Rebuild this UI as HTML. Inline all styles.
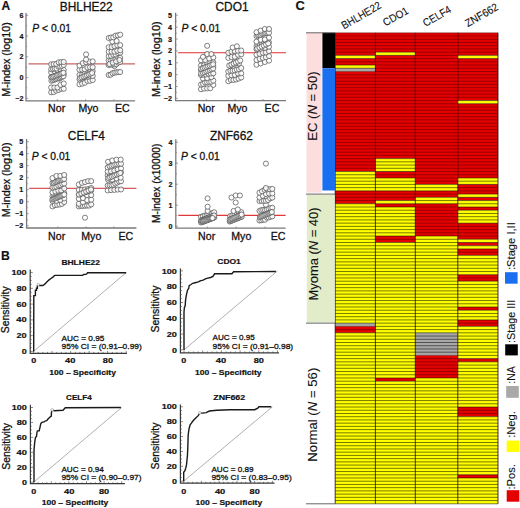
<!DOCTYPE html>
<html><head><meta charset="utf-8"><style>
html,body{margin:0;padding:0;background:#fff;}
svg{display:block;}
text{font-family:"Liberation Sans", sans-serif;fill:#111;stroke:#111;stroke-width:0.28px;}
text[font-weight="bold"]{stroke-width:0.18px;}
</style></head><body>
<svg width="520" height="508" viewBox="0 0 520 508">
<rect width="520" height="508" fill="#fff"/>
<path d="M26.0 13.1V100.8H135.1" stroke="#7a7a7a" stroke-width="1.3" fill="none"/>
<path d="M26.0 15.34h2.2M26.0 36.06h2.2M26.0 56.78h2.2M26.0 77.50h2.2M26.0 98.22h2.2M26.0 25.70h1.2M26.0 46.42h1.2M26.0 67.14h1.2M26.0 87.86h1.2M57.30 100.8v-1.6M85.60 100.8v-1.6M114.00 100.8v-1.6" stroke="#7a7a7a" stroke-width="0.7" fill="none"/>
<text x="23.4" y="17.84" font-size="7.2" font-weight="bold" text-anchor="end">6</text>
<text x="23.4" y="38.56" font-size="7.2" font-weight="bold" text-anchor="end">4</text>
<text x="23.4" y="59.28" font-size="7.2" font-weight="bold" text-anchor="end">2</text>
<text x="23.4" y="80.00" font-size="7.2" font-weight="bold" text-anchor="end">0</text>
<text x="23.4" y="100.72" font-size="7.2" font-weight="bold" text-anchor="end">&#8722;2</text>
<line x1="28.5" y1="63.9" x2="135.1" y2="63.9" stroke="#c86464" stroke-width="1.1"/>
<g fill="#fff" fill-opacity="0.85" stroke="#4a4a4a" stroke-width="0.7"><circle cx="51.20" cy="92.30" r="2.55"/><circle cx="53.70" cy="92.06" r="2.55"/><circle cx="56.20" cy="90.67" r="2.55"/><circle cx="58.70" cy="89.92" r="2.55"/><circle cx="61.20" cy="88.79" r="2.55"/><circle cx="63.70" cy="88.78" r="2.55"/><circle cx="51.20" cy="87.50" r="2.55"/><circle cx="54.33" cy="87.50" r="2.55"/><circle cx="57.45" cy="87.49" r="2.55"/><circle cx="60.58" cy="84.86" r="2.55"/><circle cx="63.70" cy="83.53" r="2.55"/><circle cx="55.35" cy="79.00" r="2.55"/><circle cx="59.55" cy="78.57" r="2.55"/><circle cx="51.20" cy="77.06" r="2.55"/><circle cx="55.37" cy="75.25" r="2.55"/><circle cx="59.53" cy="74.65" r="2.55"/><circle cx="63.70" cy="74.27" r="2.55"/><circle cx="51.20" cy="72.37" r="2.55"/><circle cx="54.33" cy="71.16" r="2.55"/><circle cx="57.45" cy="70.42" r="2.55"/><circle cx="60.58" cy="70.27" r="2.55"/><circle cx="63.70" cy="69.96" r="2.55"/><circle cx="51.20" cy="69.29" r="2.55"/><circle cx="52.99" cy="68.84" r="2.55"/><circle cx="54.77" cy="68.59" r="2.55"/><circle cx="56.56" cy="68.56" r="2.55"/><circle cx="58.34" cy="66.58" r="2.55"/><circle cx="60.13" cy="66.49" r="2.55"/><circle cx="61.91" cy="65.88" r="2.55"/><circle cx="63.70" cy="64.96" r="2.55"/><circle cx="51.20" cy="64.36" r="2.55"/><circle cx="53.70" cy="64.10" r="2.55"/><circle cx="56.20" cy="63.96" r="2.55"/><circle cx="58.70" cy="62.36" r="2.55"/><circle cx="61.20" cy="62.08" r="2.55"/><circle cx="63.70" cy="62.00" r="2.55"/><circle cx="51.45" cy="80.75" r="2.55"/><circle cx="52.78" cy="80.25" r="2.55"/><circle cx="54.12" cy="79.75" r="2.55"/><circle cx="55.45" cy="79.25" r="2.55"/><circle cx="56.78" cy="78.75" r="2.55"/><circle cx="58.12" cy="78.25" r="2.55"/><circle cx="59.45" cy="77.75" r="2.55"/><circle cx="60.78" cy="77.25" r="2.55"/><circle cx="62.12" cy="76.75" r="2.55"/><circle cx="63.45" cy="76.25" r="2.55"/><circle cx="51.45" cy="77.25" r="2.55"/><circle cx="52.78" cy="76.75" r="2.55"/><circle cx="54.12" cy="76.25" r="2.55"/><circle cx="55.45" cy="75.75" r="2.55"/><circle cx="56.78" cy="75.25" r="2.55"/><circle cx="58.12" cy="74.75" r="2.55"/><circle cx="59.45" cy="74.25" r="2.55"/><circle cx="60.78" cy="73.75" r="2.55"/><circle cx="62.12" cy="73.25" r="2.55"/><circle cx="63.45" cy="72.75" r="2.55"/></g>
<g fill="#fff" fill-opacity="0.85" stroke="#4a4a4a" stroke-width="0.7"><circle cx="79.50" cy="84.30" r="2.55"/><circle cx="82.14" cy="83.67" r="2.55"/><circle cx="84.78" cy="82.79" r="2.55"/><circle cx="87.42" cy="80.84" r="2.55"/><circle cx="90.06" cy="80.82" r="2.55"/><circle cx="92.70" cy="80.03" r="2.55"/><circle cx="79.50" cy="79.39" r="2.55"/><circle cx="81.70" cy="77.53" r="2.55"/><circle cx="83.90" cy="77.26" r="2.55"/><circle cx="86.10" cy="76.84" r="2.55"/><circle cx="88.30" cy="76.58" r="2.55"/><circle cx="90.50" cy="75.95" r="2.55"/><circle cx="92.70" cy="75.94" r="2.55"/><circle cx="79.50" cy="74.87" r="2.55"/><circle cx="82.14" cy="74.67" r="2.55"/><circle cx="84.78" cy="73.47" r="2.55"/><circle cx="87.42" cy="73.05" r="2.55"/><circle cx="90.06" cy="71.75" r="2.55"/><circle cx="92.70" cy="71.05" r="2.55"/><circle cx="79.50" cy="69.67" r="2.55"/><circle cx="82.14" cy="69.55" r="2.55"/><circle cx="84.78" cy="69.27" r="2.55"/><circle cx="87.42" cy="67.51" r="2.55"/><circle cx="90.06" cy="67.22" r="2.55"/><circle cx="92.70" cy="67.22" r="2.55"/><circle cx="79.50" cy="65.64" r="2.55"/><circle cx="82.80" cy="63.16" r="2.55"/><circle cx="86.10" cy="62.19" r="2.55"/><circle cx="89.40" cy="61.66" r="2.55"/><circle cx="92.70" cy="61.37" r="2.55"/><circle cx="86.10" cy="59.50" r="2.55"/><circle cx="86.10" cy="54.40" r="2.55"/><circle cx="80.10" cy="78.00" r="2.55"/><circle cx="81.81" cy="77.29" r="2.55"/><circle cx="83.53" cy="76.57" r="2.55"/><circle cx="85.24" cy="75.86" r="2.55"/><circle cx="86.96" cy="75.14" r="2.55"/><circle cx="88.67" cy="74.43" r="2.55"/><circle cx="90.39" cy="73.71" r="2.55"/><circle cx="92.10" cy="73.00" r="2.55"/></g>
<g fill="#fff" fill-opacity="0.85" stroke="#4a4a4a" stroke-width="0.7"><circle cx="108.70" cy="75.00" r="2.55"/><circle cx="110.62" cy="74.68" r="2.55"/><circle cx="112.53" cy="73.25" r="2.55"/><circle cx="114.45" cy="72.62" r="2.55"/><circle cx="116.37" cy="72.35" r="2.55"/><circle cx="118.28" cy="72.13" r="2.55"/><circle cx="120.20" cy="72.03" r="2.55"/><circle cx="114.45" cy="66.07" r="2.55"/><circle cx="108.70" cy="65.10" r="2.55"/><circle cx="110.62" cy="64.58" r="2.55"/><circle cx="112.53" cy="64.53" r="2.55"/><circle cx="114.45" cy="64.37" r="2.55"/><circle cx="116.37" cy="64.09" r="2.55"/><circle cx="118.28" cy="62.57" r="2.55"/><circle cx="120.20" cy="61.92" r="2.55"/><circle cx="108.70" cy="60.36" r="2.55"/><circle cx="110.62" cy="60.33" r="2.55"/><circle cx="112.53" cy="59.37" r="2.55"/><circle cx="114.45" cy="58.96" r="2.55"/><circle cx="116.37" cy="58.73" r="2.55"/><circle cx="118.28" cy="58.11" r="2.55"/><circle cx="120.20" cy="57.86" r="2.55"/><circle cx="108.70" cy="56.19" r="2.55"/><circle cx="111.00" cy="55.85" r="2.55"/><circle cx="113.30" cy="54.77" r="2.55"/><circle cx="115.60" cy="54.48" r="2.55"/><circle cx="117.90" cy="53.06" r="2.55"/><circle cx="120.20" cy="52.65" r="2.55"/><circle cx="108.70" cy="51.73" r="2.55"/><circle cx="111.58" cy="51.67" r="2.55"/><circle cx="114.45" cy="51.61" r="2.55"/><circle cx="117.33" cy="50.69" r="2.55"/><circle cx="120.20" cy="50.29" r="2.55"/><circle cx="108.70" cy="47.20" r="2.55"/><circle cx="111.58" cy="47.05" r="2.55"/><circle cx="114.45" cy="46.12" r="2.55"/><circle cx="117.33" cy="45.32" r="2.55"/><circle cx="120.20" cy="45.12" r="2.55"/><circle cx="112.35" cy="41.48" r="2.55"/><circle cx="116.55" cy="41.05" r="2.55"/><circle cx="108.70" cy="38.01" r="2.55"/><circle cx="111.00" cy="37.49" r="2.55"/><circle cx="113.30" cy="37.37" r="2.55"/><circle cx="115.60" cy="35.66" r="2.55"/><circle cx="117.90" cy="35.34" r="2.55"/><circle cx="120.20" cy="34.70" r="2.55"/><circle cx="109.45" cy="64.00" r="2.55"/><circle cx="112.78" cy="62.67" r="2.55"/><circle cx="116.12" cy="61.33" r="2.55"/><circle cx="119.45" cy="60.00" r="2.55"/></g>
<text x="59.8" y="10.8" font-size="11.9">BHLHE22</text>
<text x="32.3" y="32.0" font-size="10.3"><tspan font-style="italic">P</tspan> &lt; 0.01</text>
<text x="48.1" y="112.3" font-size="10.6">Nor</text>
<text x="78.5" y="112.3" font-size="10.6">Myo</text>
<text x="115.0" y="112.3" font-size="10.6">EC</text>
<text transform="translate(10.2,59.5) rotate(-90)" font-size="10.6" text-anchor="middle" textLength="74.4" lengthAdjust="spacingAndGlyphs">M-index (log10)</text>
<path d="M175.6 12.7V100.6H286.0" stroke="#7a7a7a" stroke-width="1.3" fill="none"/>
<path d="M175.6 15.31h2.2M175.6 27.18h2.2M175.6 39.05h2.2M175.6 50.92h2.2M175.6 62.79h2.2M175.6 74.66h2.2M175.6 86.53h2.2M175.6 98.40h2.2M175.6 92.47h1.2M175.6 80.59h1.2M175.6 68.72h1.2M175.6 56.85h1.2M175.6 44.98h1.2M175.6 33.12h1.2M175.6 21.24h1.2M206.30 100.6v-1.6M235.20 100.6v-1.6M263.10 100.6v-1.6" stroke="#7a7a7a" stroke-width="0.7" fill="none"/>
<text x="172.0" y="17.81" font-size="7.2" font-weight="bold" text-anchor="end">5</text>
<text x="172.0" y="29.68" font-size="7.2" font-weight="bold" text-anchor="end">4</text>
<text x="172.0" y="41.55" font-size="7.2" font-weight="bold" text-anchor="end">3</text>
<text x="172.0" y="53.42" font-size="7.2" font-weight="bold" text-anchor="end">2</text>
<text x="172.0" y="65.29" font-size="7.2" font-weight="bold" text-anchor="end">1</text>
<text x="172.0" y="77.16" font-size="7.2" font-weight="bold" text-anchor="end">0</text>
<text x="172.0" y="89.03" font-size="7.2" font-weight="bold" text-anchor="end">&#8722;1</text>
<text x="172.0" y="100.90" font-size="7.2" font-weight="bold" text-anchor="end">&#8722;2</text>
<line x1="178.1" y1="52.8" x2="286.0" y2="52.8" stroke="#e03030" stroke-width="1.1"/>
<g fill="#fff" fill-opacity="0.85" stroke="#4a4a4a" stroke-width="0.7"><circle cx="201.00" cy="89.20" r="2.55"/><circle cx="204.07" cy="88.63" r="2.55"/><circle cx="207.15" cy="88.40" r="2.55"/><circle cx="210.22" cy="88.27" r="2.55"/><circle cx="213.30" cy="84.93" r="2.55"/><circle cx="201.00" cy="84.50" r="2.55"/><circle cx="203.05" cy="83.89" r="2.55"/><circle cx="205.10" cy="82.51" r="2.55"/><circle cx="207.15" cy="82.36" r="2.55"/><circle cx="209.20" cy="81.84" r="2.55"/><circle cx="211.25" cy="81.72" r="2.55"/><circle cx="213.30" cy="80.63" r="2.55"/><circle cx="202.95" cy="78.37" r="2.55"/><circle cx="207.15" cy="78.18" r="2.55"/><circle cx="211.35" cy="77.16" r="2.55"/><circle cx="201.00" cy="75.07" r="2.55"/><circle cx="203.46" cy="74.76" r="2.55"/><circle cx="205.92" cy="74.51" r="2.55"/><circle cx="208.38" cy="73.64" r="2.55"/><circle cx="210.84" cy="73.54" r="2.55"/><circle cx="213.30" cy="73.32" r="2.55"/><circle cx="201.00" cy="70.09" r="2.55"/><circle cx="203.46" cy="68.85" r="2.55"/><circle cx="205.92" cy="67.36" r="2.55"/><circle cx="208.38" cy="66.93" r="2.55"/><circle cx="210.84" cy="66.76" r="2.55"/><circle cx="213.30" cy="66.71" r="2.55"/><circle cx="201.00" cy="65.55" r="2.55"/><circle cx="204.07" cy="65.19" r="2.55"/><circle cx="207.15" cy="62.67" r="2.55"/><circle cx="210.22" cy="62.62" r="2.55"/><circle cx="213.30" cy="62.27" r="2.55"/><circle cx="201.00" cy="60.22" r="2.55"/><circle cx="205.10" cy="60.04" r="2.55"/><circle cx="209.20" cy="58.53" r="2.55"/><circle cx="213.30" cy="57.42" r="2.55"/><circle cx="202.95" cy="56.93" r="2.55"/><circle cx="207.15" cy="54.00" r="2.55"/><circle cx="211.35" cy="54.00" r="2.55"/><circle cx="207.15" cy="45.80" r="2.55"/><circle cx="201.15" cy="73.50" r="2.55"/><circle cx="202.86" cy="72.79" r="2.55"/><circle cx="204.58" cy="72.07" r="2.55"/><circle cx="206.29" cy="71.36" r="2.55"/><circle cx="208.01" cy="70.64" r="2.55"/><circle cx="209.72" cy="69.93" r="2.55"/><circle cx="211.44" cy="69.21" r="2.55"/><circle cx="213.15" cy="68.50" r="2.55"/><circle cx="201.15" cy="68.75" r="2.55"/><circle cx="202.86" cy="68.11" r="2.55"/><circle cx="204.58" cy="67.46" r="2.55"/><circle cx="206.29" cy="66.82" r="2.55"/><circle cx="208.01" cy="66.18" r="2.55"/><circle cx="209.72" cy="65.54" r="2.55"/><circle cx="211.44" cy="64.89" r="2.55"/><circle cx="213.15" cy="64.25" r="2.55"/></g>
<g fill="#fff" fill-opacity="0.85" stroke="#4a4a4a" stroke-width="0.7"><circle cx="228.30" cy="81.20" r="2.55"/><circle cx="230.88" cy="79.96" r="2.55"/><circle cx="233.46" cy="79.94" r="2.55"/><circle cx="236.04" cy="79.50" r="2.55"/><circle cx="238.62" cy="78.56" r="2.55"/><circle cx="241.20" cy="77.46" r="2.55"/><circle cx="228.30" cy="75.86" r="2.55"/><circle cx="231.53" cy="75.23" r="2.55"/><circle cx="234.75" cy="74.86" r="2.55"/><circle cx="237.98" cy="73.45" r="2.55"/><circle cx="241.20" cy="73.32" r="2.55"/><circle cx="228.30" cy="71.61" r="2.55"/><circle cx="230.45" cy="70.78" r="2.55"/><circle cx="232.60" cy="70.78" r="2.55"/><circle cx="234.75" cy="70.31" r="2.55"/><circle cx="236.90" cy="69.61" r="2.55"/><circle cx="239.05" cy="69.20" r="2.55"/><circle cx="241.20" cy="68.02" r="2.55"/><circle cx="230.55" cy="65.51" r="2.55"/><circle cx="234.75" cy="63.93" r="2.55"/><circle cx="238.95" cy="63.41" r="2.55"/><circle cx="234.75" cy="61.28" r="2.55"/><circle cx="228.30" cy="57.91" r="2.55"/><circle cx="231.53" cy="57.05" r="2.55"/><circle cx="234.75" cy="56.77" r="2.55"/><circle cx="237.98" cy="54.78" r="2.55"/><circle cx="241.20" cy="54.26" r="2.55"/><circle cx="228.30" cy="52.76" r="2.55"/><circle cx="231.53" cy="51.61" r="2.55"/><circle cx="234.75" cy="51.05" r="2.55"/><circle cx="237.98" cy="50.77" r="2.55"/><circle cx="241.20" cy="50.52" r="2.55"/><circle cx="232.65" cy="47.57" r="2.55"/><circle cx="236.85" cy="46.30" r="2.55"/><circle cx="229.25" cy="65.50" r="2.55"/><circle cx="231.45" cy="64.50" r="2.55"/><circle cx="233.65" cy="63.50" r="2.55"/><circle cx="235.85" cy="62.50" r="2.55"/><circle cx="238.05" cy="61.50" r="2.55"/><circle cx="240.25" cy="60.50" r="2.55"/></g>
<g fill="#fff" fill-opacity="0.85" stroke="#4a4a4a" stroke-width="0.7"><circle cx="256.50" cy="64.70" r="2.55"/><circle cx="260.67" cy="63.44" r="2.55"/><circle cx="264.83" cy="62.00" r="2.55"/><circle cx="269.00" cy="60.60" r="2.55"/><circle cx="256.50" cy="59.97" r="2.55"/><circle cx="259.62" cy="58.80" r="2.55"/><circle cx="262.75" cy="57.90" r="2.55"/><circle cx="265.88" cy="57.20" r="2.55"/><circle cx="269.00" cy="56.13" r="2.55"/><circle cx="256.50" cy="54.71" r="2.55"/><circle cx="259.62" cy="53.85" r="2.55"/><circle cx="262.75" cy="52.67" r="2.55"/><circle cx="265.88" cy="52.44" r="2.55"/><circle cx="269.00" cy="51.21" r="2.55"/><circle cx="256.50" cy="49.18" r="2.55"/><circle cx="260.67" cy="48.74" r="2.55"/><circle cx="264.83" cy="47.83" r="2.55"/><circle cx="269.00" cy="46.72" r="2.55"/><circle cx="256.50" cy="46.14" r="2.55"/><circle cx="258.29" cy="45.56" r="2.55"/><circle cx="260.07" cy="44.59" r="2.55"/><circle cx="261.86" cy="43.65" r="2.55"/><circle cx="263.64" cy="43.52" r="2.55"/><circle cx="265.43" cy="43.40" r="2.55"/><circle cx="267.21" cy="43.31" r="2.55"/><circle cx="269.00" cy="42.48" r="2.55"/><circle cx="256.50" cy="41.60" r="2.55"/><circle cx="260.67" cy="39.80" r="2.55"/><circle cx="264.83" cy="39.49" r="2.55"/><circle cx="269.00" cy="37.68" r="2.55"/><circle cx="256.50" cy="36.00" r="2.55"/><circle cx="257.89" cy="35.25" r="2.55"/><circle cx="259.28" cy="35.19" r="2.55"/><circle cx="260.67" cy="34.86" r="2.55"/><circle cx="262.06" cy="33.91" r="2.55"/><circle cx="263.44" cy="33.54" r="2.55"/><circle cx="264.83" cy="33.28" r="2.55"/><circle cx="266.22" cy="33.12" r="2.55"/><circle cx="267.61" cy="32.74" r="2.55"/><circle cx="269.00" cy="32.64" r="2.55"/><circle cx="256.50" cy="32.26" r="2.55"/><circle cx="260.67" cy="30.64" r="2.55"/><circle cx="264.83" cy="29.02" r="2.55"/><circle cx="269.00" cy="29.00" r="2.55"/><circle cx="257.25" cy="48.50" r="2.55"/><circle cx="259.45" cy="47.50" r="2.55"/><circle cx="261.65" cy="46.50" r="2.55"/><circle cx="263.85" cy="45.50" r="2.55"/><circle cx="266.05" cy="44.50" r="2.55"/><circle cx="268.25" cy="43.50" r="2.55"/></g>
<text x="215.5" y="10.8" font-size="11.9">CDO1</text>
<text x="181.5" y="32.0" font-size="10.3"><tspan font-style="italic">P</tspan> &lt; 0.01</text>
<text x="197.7" y="112.3" font-size="10.6">Nor</text>
<text x="227.5" y="112.3" font-size="10.6">Myo</text>
<text x="264.6" y="112.3" font-size="10.6">EC</text>
<text transform="translate(160.2,59.2) rotate(-90)" font-size="10.6" text-anchor="middle" textLength="75.6" lengthAdjust="spacingAndGlyphs">M-index (log10)</text>
<path d="M26.6 139.0V228.0H136.4" stroke="#7a7a7a" stroke-width="1.3" fill="none"/>
<path d="M26.6 141.65h2.2M26.6 153.66h2.2M26.6 165.67h2.2M26.6 177.68h2.2M26.6 189.69h2.2M26.6 201.70h2.2M26.6 213.71h2.2M26.6 225.72h2.2M26.6 219.71h1.2M26.6 207.70h1.2M26.6 195.69h1.2M26.6 183.69h1.2M26.6 171.67h1.2M26.6 159.66h1.2M26.6 147.65h1.2M57.70 228.0v-1.6M86.20 228.0v-1.6M114.00 228.0v-1.6" stroke="#7a7a7a" stroke-width="0.7" fill="none"/>
<text x="23.2" y="144.15" font-size="7.2" font-weight="bold" text-anchor="end">5</text>
<text x="23.2" y="156.16" font-size="7.2" font-weight="bold" text-anchor="end">4</text>
<text x="23.2" y="168.17" font-size="7.2" font-weight="bold" text-anchor="end">3</text>
<text x="23.2" y="180.18" font-size="7.2" font-weight="bold" text-anchor="end">2</text>
<text x="23.2" y="192.19" font-size="7.2" font-weight="bold" text-anchor="end">1</text>
<text x="23.2" y="204.20" font-size="7.2" font-weight="bold" text-anchor="end">0</text>
<text x="23.2" y="216.21" font-size="7.2" font-weight="bold" text-anchor="end">&#8722;1</text>
<text x="23.2" y="228.22" font-size="7.2" font-weight="bold" text-anchor="end">&#8722;2</text>
<line x1="29.1" y1="188.4" x2="136.4" y2="188.4" stroke="#d85a5a" stroke-width="1.1"/>
<g fill="#fff" fill-opacity="0.85" stroke="#4a4a4a" stroke-width="0.7"><circle cx="52.50" cy="206.40" r="2.55"/><circle cx="54.84" cy="205.14" r="2.55"/><circle cx="57.18" cy="204.84" r="2.55"/><circle cx="59.52" cy="204.52" r="2.55"/><circle cx="61.86" cy="203.96" r="2.55"/><circle cx="64.20" cy="202.05" r="2.55"/><circle cx="52.50" cy="201.00" r="2.55"/><circle cx="56.40" cy="200.88" r="2.55"/><circle cx="60.30" cy="200.01" r="2.55"/><circle cx="64.20" cy="198.45" r="2.55"/><circle cx="52.50" cy="196.39" r="2.55"/><circle cx="54.17" cy="196.38" r="2.55"/><circle cx="55.84" cy="195.25" r="2.55"/><circle cx="57.51" cy="194.28" r="2.55"/><circle cx="59.19" cy="193.93" r="2.55"/><circle cx="60.86" cy="193.50" r="2.55"/><circle cx="62.53" cy="193.31" r="2.55"/><circle cx="64.20" cy="193.06" r="2.55"/><circle cx="52.50" cy="192.43" r="2.55"/><circle cx="55.42" cy="191.48" r="2.55"/><circle cx="58.35" cy="190.56" r="2.55"/><circle cx="61.27" cy="190.47" r="2.55"/><circle cx="64.20" cy="188.45" r="2.55"/><circle cx="52.50" cy="187.52" r="2.55"/><circle cx="54.45" cy="187.13" r="2.55"/><circle cx="56.40" cy="186.56" r="2.55"/><circle cx="58.35" cy="185.48" r="2.55"/><circle cx="60.30" cy="184.99" r="2.55"/><circle cx="62.25" cy="183.95" r="2.55"/><circle cx="64.20" cy="183.48" r="2.55"/><circle cx="52.50" cy="182.85" r="2.55"/><circle cx="53.80" cy="182.77" r="2.55"/><circle cx="55.10" cy="182.02" r="2.55"/><circle cx="56.40" cy="181.52" r="2.55"/><circle cx="57.70" cy="181.01" r="2.55"/><circle cx="59.00" cy="180.39" r="2.55"/><circle cx="60.30" cy="180.15" r="2.55"/><circle cx="61.60" cy="179.83" r="2.55"/><circle cx="62.90" cy="179.33" r="2.55"/><circle cx="64.20" cy="178.93" r="2.55"/><circle cx="52.50" cy="178.11" r="2.55"/><circle cx="56.40" cy="175.95" r="2.55"/><circle cx="60.30" cy="175.88" r="2.55"/><circle cx="64.20" cy="175.00" r="2.55"/><circle cx="52.35" cy="199.50" r="2.55"/><circle cx="53.44" cy="199.05" r="2.55"/><circle cx="54.53" cy="198.59" r="2.55"/><circle cx="55.62" cy="198.14" r="2.55"/><circle cx="56.71" cy="197.68" r="2.55"/><circle cx="57.80" cy="197.23" r="2.55"/><circle cx="58.90" cy="196.77" r="2.55"/><circle cx="59.99" cy="196.32" r="2.55"/><circle cx="61.08" cy="195.86" r="2.55"/><circle cx="62.17" cy="195.41" r="2.55"/><circle cx="63.26" cy="194.95" r="2.55"/><circle cx="64.35" cy="194.50" r="2.55"/></g>
<g fill="#fff" fill-opacity="0.85" stroke="#4a4a4a" stroke-width="0.7"><circle cx="85.00" cy="217.70" r="2.55"/><circle cx="78.80" cy="206.40" r="2.55"/><circle cx="80.87" cy="205.95" r="2.55"/><circle cx="82.93" cy="205.92" r="2.55"/><circle cx="85.00" cy="205.72" r="2.55"/><circle cx="87.07" cy="205.58" r="2.55"/><circle cx="89.13" cy="205.58" r="2.55"/><circle cx="91.20" cy="204.42" r="2.55"/><circle cx="78.80" cy="203.81" r="2.55"/><circle cx="82.93" cy="202.29" r="2.55"/><circle cx="87.07" cy="199.97" r="2.55"/><circle cx="91.20" cy="199.64" r="2.55"/><circle cx="78.80" cy="198.82" r="2.55"/><circle cx="82.93" cy="198.13" r="2.55"/><circle cx="87.07" cy="195.18" r="2.55"/><circle cx="91.20" cy="195.09" r="2.55"/><circle cx="78.80" cy="194.58" r="2.55"/><circle cx="80.57" cy="193.61" r="2.55"/><circle cx="82.34" cy="193.19" r="2.55"/><circle cx="84.11" cy="192.50" r="2.55"/><circle cx="85.89" cy="192.10" r="2.55"/><circle cx="87.66" cy="191.23" r="2.55"/><circle cx="89.43" cy="190.47" r="2.55"/><circle cx="91.20" cy="190.35" r="2.55"/><circle cx="78.80" cy="189.87" r="2.55"/><circle cx="81.90" cy="189.71" r="2.55"/><circle cx="85.00" cy="189.40" r="2.55"/><circle cx="88.10" cy="189.07" r="2.55"/><circle cx="91.20" cy="187.96" r="2.55"/><circle cx="78.80" cy="184.46" r="2.55"/><circle cx="81.90" cy="182.86" r="2.55"/><circle cx="85.00" cy="182.06" r="2.55"/><circle cx="88.10" cy="181.15" r="2.55"/><circle cx="91.20" cy="181.10" r="2.55"/><circle cx="79.00" cy="194.50" r="2.55"/><circle cx="81.40" cy="193.50" r="2.55"/><circle cx="83.80" cy="192.50" r="2.55"/><circle cx="86.20" cy="191.50" r="2.55"/><circle cx="88.60" cy="190.50" r="2.55"/><circle cx="91.00" cy="189.50" r="2.55"/></g>
<g fill="#fff" fill-opacity="0.85" stroke="#4a4a4a" stroke-width="0.7"><circle cx="107.70" cy="190.40" r="2.55"/><circle cx="111.02" cy="190.09" r="2.55"/><circle cx="114.35" cy="189.92" r="2.55"/><circle cx="117.67" cy="189.56" r="2.55"/><circle cx="121.00" cy="189.47" r="2.55"/><circle cx="107.70" cy="185.48" r="2.55"/><circle cx="109.60" cy="185.28" r="2.55"/><circle cx="111.50" cy="185.13" r="2.55"/><circle cx="113.40" cy="184.71" r="2.55"/><circle cx="115.30" cy="183.49" r="2.55"/><circle cx="117.20" cy="182.63" r="2.55"/><circle cx="119.10" cy="181.52" r="2.55"/><circle cx="121.00" cy="181.28" r="2.55"/><circle cx="108.05" cy="179.64" r="2.55"/><circle cx="112.25" cy="179.47" r="2.55"/><circle cx="116.45" cy="178.48" r="2.55"/><circle cx="120.65" cy="177.67" r="2.55"/><circle cx="107.70" cy="175.37" r="2.55"/><circle cx="109.60" cy="174.00" r="2.55"/><circle cx="111.50" cy="173.55" r="2.55"/><circle cx="113.40" cy="173.40" r="2.55"/><circle cx="115.30" cy="173.06" r="2.55"/><circle cx="117.20" cy="172.91" r="2.55"/><circle cx="119.10" cy="172.85" r="2.55"/><circle cx="121.00" cy="172.35" r="2.55"/><circle cx="107.70" cy="171.57" r="2.55"/><circle cx="111.02" cy="171.32" r="2.55"/><circle cx="114.35" cy="170.68" r="2.55"/><circle cx="117.67" cy="169.50" r="2.55"/><circle cx="121.00" cy="168.37" r="2.55"/><circle cx="107.70" cy="167.34" r="2.55"/><circle cx="109.60" cy="166.14" r="2.55"/><circle cx="111.50" cy="165.67" r="2.55"/><circle cx="113.40" cy="165.00" r="2.55"/><circle cx="115.30" cy="164.41" r="2.55"/><circle cx="117.20" cy="164.35" r="2.55"/><circle cx="119.10" cy="163.90" r="2.55"/><circle cx="121.00" cy="163.78" r="2.55"/><circle cx="108.05" cy="161.81" r="2.55"/><circle cx="112.25" cy="160.49" r="2.55"/><circle cx="116.45" cy="159.72" r="2.55"/><circle cx="120.65" cy="159.60" r="2.55"/><circle cx="108.35" cy="178.00" r="2.55"/><circle cx="110.06" cy="177.29" r="2.55"/><circle cx="111.78" cy="176.57" r="2.55"/><circle cx="113.49" cy="175.86" r="2.55"/><circle cx="115.21" cy="175.14" r="2.55"/><circle cx="116.92" cy="174.43" r="2.55"/><circle cx="118.64" cy="173.71" r="2.55"/><circle cx="120.35" cy="173.00" r="2.55"/></g>
<text x="67.8" y="139.8" font-size="11.9">CELF4</text>
<text x="31.7" y="160.0" font-size="10.3"><tspan font-style="italic">P</tspan> &lt; 0.01</text>
<text x="48.1" y="239.5" font-size="10.6">Nor</text>
<text x="81.3" y="239.5" font-size="10.6">Myo</text>
<text x="118.5" y="239.5" font-size="10.6">EC</text>
<text transform="translate(10.0,179.8) rotate(-90)" font-size="10.6" text-anchor="middle" textLength="74.8" lengthAdjust="spacingAndGlyphs">M-index (log10)</text>
<path d="M175.8 139.2V228.1H285.6" stroke="#7a7a7a" stroke-width="1.3" fill="none"/>
<path d="M175.8 142.20h2.2M175.8 163.20h2.2M175.8 184.20h2.2M175.8 205.20h2.2M175.8 226.20h2.2M175.8 215.70h1.2M175.8 194.70h1.2M175.8 173.70h1.2M175.8 152.70h1.2M207.30 228.1v-1.6M236.20 228.1v-1.6M265.00 228.1v-1.6" stroke="#7a7a7a" stroke-width="0.7" fill="none"/>
<text x="172.4" y="144.70" font-size="7.2" font-weight="bold" text-anchor="end">4</text>
<text x="172.4" y="165.70" font-size="7.2" font-weight="bold" text-anchor="end">3</text>
<text x="172.4" y="186.70" font-size="7.2" font-weight="bold" text-anchor="end">2</text>
<text x="172.4" y="207.70" font-size="7.2" font-weight="bold" text-anchor="end">1</text>
<text x="172.4" y="228.70" font-size="7.2" font-weight="bold" text-anchor="end">0</text>
<line x1="178.3" y1="215.4" x2="285.6" y2="215.4" stroke="#e03838" stroke-width="1.1"/>
<g fill="#fff" fill-opacity="0.85" stroke="#4a4a4a" stroke-width="0.7"><circle cx="201.00" cy="221.41" r="2.55"/><circle cx="204.30" cy="219.73" r="2.55"/><circle cx="207.60" cy="218.76" r="2.55"/><circle cx="210.90" cy="218.02" r="2.55"/><circle cx="214.20" cy="217.39" r="2.55"/><circle cx="201.00" cy="216.82" r="2.55"/><circle cx="202.89" cy="216.27" r="2.55"/><circle cx="204.77" cy="215.73" r="2.55"/><circle cx="206.66" cy="215.18" r="2.55"/><circle cx="208.54" cy="214.61" r="2.55"/><circle cx="210.43" cy="213.98" r="2.55"/><circle cx="212.31" cy="213.24" r="2.55"/><circle cx="214.20" cy="212.27" r="2.55"/><circle cx="207.60" cy="211.00" r="2.55"/><circle cx="207.60" cy="206.70" r="2.55"/><circle cx="207.60" cy="198.40" r="2.55"/><circle cx="201.10" cy="222.50" r="2.55"/><circle cx="202.10" cy="222.12" r="2.55"/><circle cx="203.10" cy="221.73" r="2.55"/><circle cx="204.10" cy="221.35" r="2.55"/><circle cx="205.10" cy="220.96" r="2.55"/><circle cx="206.10" cy="220.58" r="2.55"/><circle cx="207.10" cy="220.19" r="2.55"/><circle cx="208.10" cy="219.81" r="2.55"/><circle cx="209.10" cy="219.42" r="2.55"/><circle cx="210.10" cy="219.04" r="2.55"/><circle cx="211.10" cy="218.65" r="2.55"/><circle cx="212.10" cy="218.27" r="2.55"/><circle cx="213.10" cy="217.88" r="2.55"/><circle cx="214.10" cy="217.50" r="2.55"/><circle cx="201.10" cy="220.50" r="2.55"/><circle cx="202.10" cy="220.12" r="2.55"/><circle cx="203.10" cy="219.73" r="2.55"/><circle cx="204.10" cy="219.35" r="2.55"/><circle cx="205.10" cy="218.96" r="2.55"/><circle cx="206.10" cy="218.58" r="2.55"/><circle cx="207.10" cy="218.19" r="2.55"/><circle cx="208.10" cy="217.81" r="2.55"/><circle cx="209.10" cy="217.42" r="2.55"/><circle cx="210.10" cy="217.04" r="2.55"/><circle cx="211.10" cy="216.65" r="2.55"/><circle cx="212.10" cy="216.27" r="2.55"/><circle cx="213.10" cy="215.88" r="2.55"/><circle cx="214.10" cy="215.50" r="2.55"/><circle cx="202.60" cy="221.00" r="2.55"/><circle cx="203.51" cy="220.73" r="2.55"/><circle cx="204.42" cy="220.45" r="2.55"/><circle cx="205.33" cy="220.18" r="2.55"/><circle cx="206.24" cy="219.91" r="2.55"/><circle cx="207.15" cy="219.64" r="2.55"/><circle cx="208.05" cy="219.36" r="2.55"/><circle cx="208.96" cy="219.09" r="2.55"/><circle cx="209.87" cy="218.82" r="2.55"/><circle cx="210.78" cy="218.55" r="2.55"/><circle cx="211.69" cy="218.27" r="2.55"/><circle cx="212.60" cy="218.00" r="2.55"/></g>
<g fill="#fff" fill-opacity="0.85" stroke="#4a4a4a" stroke-width="0.7"><circle cx="230.20" cy="221.06" r="2.55"/><circle cx="233.87" cy="219.03" r="2.55"/><circle cx="237.53" cy="217.84" r="2.55"/><circle cx="241.20" cy="216.92" r="2.55"/><circle cx="230.20" cy="216.12" r="2.55"/><circle cx="232.40" cy="215.37" r="2.55"/><circle cx="234.60" cy="214.63" r="2.55"/><circle cx="236.80" cy="213.88" r="2.55"/><circle cx="239.00" cy="213.08" r="2.55"/><circle cx="241.20" cy="212.16" r="2.55"/><circle cx="233.60" cy="210.97" r="2.55"/><circle cx="237.80" cy="209.50" r="2.55"/><circle cx="235.70" cy="202.50" r="2.55"/><circle cx="231.50" cy="197.50" r="2.55"/><circle cx="235.70" cy="195.50" r="2.55"/><circle cx="239.90" cy="195.50" r="2.55"/><circle cx="229.70" cy="221.50" r="2.55"/><circle cx="230.79" cy="221.05" r="2.55"/><circle cx="231.88" cy="220.59" r="2.55"/><circle cx="232.97" cy="220.14" r="2.55"/><circle cx="234.06" cy="219.68" r="2.55"/><circle cx="235.15" cy="219.23" r="2.55"/><circle cx="236.25" cy="218.77" r="2.55"/><circle cx="237.34" cy="218.32" r="2.55"/><circle cx="238.43" cy="217.86" r="2.55"/><circle cx="239.52" cy="217.41" r="2.55"/><circle cx="240.61" cy="216.95" r="2.55"/><circle cx="241.70" cy="216.50" r="2.55"/><circle cx="229.70" cy="219.50" r="2.55"/><circle cx="230.79" cy="219.05" r="2.55"/><circle cx="231.88" cy="218.59" r="2.55"/><circle cx="232.97" cy="218.14" r="2.55"/><circle cx="234.06" cy="217.68" r="2.55"/><circle cx="235.15" cy="217.23" r="2.55"/><circle cx="236.25" cy="216.77" r="2.55"/><circle cx="237.34" cy="216.32" r="2.55"/><circle cx="238.43" cy="215.86" r="2.55"/><circle cx="239.52" cy="215.41" r="2.55"/><circle cx="240.61" cy="214.95" r="2.55"/><circle cx="241.70" cy="214.50" r="2.55"/></g>
<g fill="#fff" fill-opacity="0.85" stroke="#4a4a4a" stroke-width="0.7"><circle cx="259.50" cy="220.50" r="2.55"/><circle cx="261.33" cy="220.22" r="2.55"/><circle cx="263.16" cy="219.77" r="2.55"/><circle cx="264.99" cy="219.67" r="2.55"/><circle cx="266.81" cy="217.49" r="2.55"/><circle cx="268.64" cy="217.49" r="2.55"/><circle cx="270.47" cy="216.77" r="2.55"/><circle cx="272.30" cy="216.35" r="2.55"/><circle cx="265.90" cy="213.16" r="2.55"/><circle cx="259.50" cy="210.93" r="2.55"/><circle cx="261.33" cy="210.15" r="2.55"/><circle cx="263.16" cy="209.89" r="2.55"/><circle cx="264.99" cy="209.84" r="2.55"/><circle cx="266.81" cy="209.40" r="2.55"/><circle cx="268.64" cy="208.84" r="2.55"/><circle cx="270.47" cy="208.03" r="2.55"/><circle cx="272.30" cy="207.79" r="2.55"/><circle cx="265.90" cy="204.68" r="2.55"/><circle cx="259.50" cy="200.98" r="2.55"/><circle cx="261.63" cy="200.92" r="2.55"/><circle cx="263.77" cy="200.83" r="2.55"/><circle cx="265.90" cy="200.81" r="2.55"/><circle cx="268.03" cy="200.05" r="2.55"/><circle cx="270.17" cy="198.29" r="2.55"/><circle cx="272.30" cy="197.57" r="2.55"/><circle cx="259.50" cy="197.51" r="2.55"/><circle cx="262.70" cy="195.74" r="2.55"/><circle cx="265.90" cy="194.03" r="2.55"/><circle cx="269.10" cy="193.51" r="2.55"/><circle cx="272.30" cy="193.42" r="2.55"/><circle cx="259.50" cy="192.64" r="2.55"/><circle cx="262.06" cy="191.28" r="2.55"/><circle cx="264.62" cy="189.79" r="2.55"/><circle cx="267.18" cy="189.34" r="2.55"/><circle cx="269.74" cy="189.23" r="2.55"/><circle cx="272.30" cy="188.94" r="2.55"/><circle cx="265.90" cy="188.00" r="2.55"/><circle cx="265.90" cy="163.60" r="2.55"/><circle cx="259.90" cy="217.00" r="2.55"/><circle cx="260.99" cy="216.55" r="2.55"/><circle cx="262.08" cy="216.09" r="2.55"/><circle cx="263.17" cy="215.64" r="2.55"/><circle cx="264.26" cy="215.18" r="2.55"/><circle cx="265.35" cy="214.73" r="2.55"/><circle cx="266.45" cy="214.27" r="2.55"/><circle cx="267.54" cy="213.82" r="2.55"/><circle cx="268.63" cy="213.36" r="2.55"/><circle cx="269.72" cy="212.91" r="2.55"/><circle cx="270.81" cy="212.45" r="2.55"/><circle cx="271.90" cy="212.00" r="2.55"/></g>
<text x="210.0" y="139.8" font-size="11.9">ZNF662</text>
<text x="181.0" y="160.0" font-size="10.3"><tspan font-style="italic">P</tspan> &lt; 0.01</text>
<text x="198.1" y="239.5" font-size="10.6">Nor</text>
<text x="231.3" y="239.5" font-size="10.6">Myo</text>
<text x="270.8" y="239.5" font-size="10.6">EC</text>
<text transform="translate(160.4,183.3) rotate(-90)" font-size="10.6" text-anchor="middle" textLength="79.4" lengthAdjust="spacingAndGlyphs">M-index (x10000)</text>
<path d="M30.2 269.6V353.3H127.0" stroke="#3a3a3a" stroke-width="1.2" fill="none"/>
<path d="M30.2 351.40h2.6M30.2 347.46h1.5M30.2 343.52h1.5M30.2 339.58h1.5M30.2 335.64h2.6M30.2 331.70h1.5M30.2 327.76h1.5M30.2 323.82h1.5M30.2 319.88h2.6M30.2 315.94h1.5M30.2 312.00h1.5M30.2 308.06h1.5M30.2 304.12h2.6M30.2 300.18h1.5M30.2 296.24h1.5M30.2 292.30h1.5M30.2 288.36h2.6M30.2 284.42h1.5M30.2 280.48h1.5M30.2 276.54h1.5M30.2 272.60h2.6M33.60 353.3v-2.4M38.23 353.3v-1.4M42.86 353.3v-1.4M47.49 353.3v-1.4M52.12 353.3v-2.4M56.75 353.3v-1.4M61.38 353.3v-1.4M66.01 353.3v-1.4M70.64 353.3v-2.4M75.27 353.3v-1.4M79.90 353.3v-1.4M84.53 353.3v-1.4M89.16 353.3v-2.4M93.79 353.3v-1.4M98.42 353.3v-1.4M103.05 353.3v-1.4M107.68 353.3v-2.4M112.31 353.3v-1.4M116.94 353.3v-1.4M121.57 353.3v-1.4M126.20 353.3v-2.4" stroke="#3a3a3a" stroke-width="0.6" fill="none"/>
<text x="26.70" y="275.20" font-size="7.4" font-weight="bold" text-anchor="end" textLength="15.2" lengthAdjust="spacingAndGlyphs">100</text>
<text x="26.70" y="290.96" font-size="7.4" font-weight="bold" text-anchor="end" textLength="10.2" lengthAdjust="spacingAndGlyphs">80</text>
<text x="26.70" y="306.72" font-size="7.4" font-weight="bold" text-anchor="end" textLength="10.2" lengthAdjust="spacingAndGlyphs">60</text>
<text x="26.70" y="322.48" font-size="7.4" font-weight="bold" text-anchor="end" textLength="10.4" lengthAdjust="spacingAndGlyphs">40</text>
<text x="26.70" y="338.24" font-size="7.4" font-weight="bold" text-anchor="end" textLength="10.2" lengthAdjust="spacingAndGlyphs">20</text>
<text x="26.70" y="354.00" font-size="7.4" font-weight="bold" text-anchor="end" textLength="5.0" lengthAdjust="spacingAndGlyphs">0</text>
<text x="33.65" y="363.30" font-size="7.4" font-weight="bold" text-anchor="middle" textLength="5.0" lengthAdjust="spacingAndGlyphs">0</text>
<text x="70.30" y="363.30" font-size="7.4" font-weight="bold" text-anchor="middle" textLength="10.4" lengthAdjust="spacingAndGlyphs">40</text>
<text x="107.95" y="363.30" font-size="7.4" font-weight="bold" text-anchor="middle" textLength="10.2" lengthAdjust="spacingAndGlyphs">80</text>
<line x1="33.6" y1="351.4" x2="126.2" y2="272.6" stroke="#9c9c9c" stroke-width="0.8"/>
<polyline points="33.70,351.40 33.80,295.60 35.40,295.60 35.40,290.20 36.50,290.20 36.50,288.20 37.40,288.20 37.40,285.50 38.30,284.80 39.40,285.50 42.80,285.50 44.80,284.20 46.80,282.10 48.80,280.10 50.90,278.50 52.90,277.20 54.20,275.80 54.90,275.40 82.50,275.40 83.80,274.50 86.50,274.10 87.60,272.70 126.20,272.70" fill="none" stroke="#1a1a1a" stroke-width="1.4" stroke-linejoin="miter"/>
<circle cx="38.3" cy="284.6" r="1.3" fill="#fff" stroke="#777" stroke-width="0.5"/>
<text x="80.70" y="265.10" font-size="7.3" font-weight="bold" text-anchor="middle" textLength="38.6" lengthAdjust="spacingAndGlyphs">BHLHE22</text>
<text x="61.60" y="340.80" font-size="8.1" textLength="42.8" lengthAdjust="spacingAndGlyphs">AUC = 0.95</text>
<text x="61.60" y="349.40" font-size="8.1" textLength="80.2" lengthAdjust="spacingAndGlyphs">95% CI = (0.91&#8211;0.99)</text>
<text x="82.60" y="374.80" font-size="7.4" font-weight="bold" text-anchor="middle" textLength="66.6" lengthAdjust="spacingAndGlyphs">100 &#8211; Specificity</text>
<text transform="translate(9.4,309.8) rotate(-90)" font-size="10.4" text-anchor="middle">Sensitivity</text>
<path d="M180.4 268.5V352.8H279.0" stroke="#3a3a3a" stroke-width="1.2" fill="none"/>
<path d="M180.4 349.90h2.6M180.4 345.95h1.5M180.4 342.00h1.5M180.4 338.05h1.5M180.4 334.10h2.6M180.4 330.15h1.5M180.4 326.20h1.5M180.4 322.25h1.5M180.4 318.30h2.6M180.4 314.35h1.5M180.4 310.40h1.5M180.4 306.45h1.5M180.4 302.50h2.6M180.4 298.55h1.5M180.4 294.60h1.5M180.4 290.65h1.5M180.4 286.70h2.6M180.4 282.75h1.5M180.4 278.80h1.5M180.4 274.85h1.5M180.4 270.90h2.6M184.00 352.8v-2.4M188.68 352.8v-1.4M193.35 352.8v-1.4M198.03 352.8v-1.4M202.70 352.8v-2.4M207.38 352.8v-1.4M212.05 352.8v-1.4M216.72 352.8v-1.4M221.40 352.8v-2.4M226.07 352.8v-1.4M230.75 352.8v-1.4M235.43 352.8v-1.4M240.10 352.8v-2.4M244.78 352.8v-1.4M249.45 352.8v-1.4M254.12 352.8v-1.4M258.80 352.8v-2.4M263.48 352.8v-1.4M268.15 352.8v-1.4M272.82 352.8v-1.4M277.50 352.8v-2.4" stroke="#3a3a3a" stroke-width="0.6" fill="none"/>
<text x="176.90" y="273.50" font-size="7.4" font-weight="bold" text-anchor="end" textLength="15.2" lengthAdjust="spacingAndGlyphs">100</text>
<text x="176.90" y="289.30" font-size="7.4" font-weight="bold" text-anchor="end" textLength="10.2" lengthAdjust="spacingAndGlyphs">80</text>
<text x="176.90" y="305.10" font-size="7.4" font-weight="bold" text-anchor="end" textLength="10.2" lengthAdjust="spacingAndGlyphs">60</text>
<text x="176.90" y="320.90" font-size="7.4" font-weight="bold" text-anchor="end" textLength="10.4" lengthAdjust="spacingAndGlyphs">40</text>
<text x="176.90" y="336.70" font-size="7.4" font-weight="bold" text-anchor="end" textLength="10.2" lengthAdjust="spacingAndGlyphs">20</text>
<text x="176.90" y="352.50" font-size="7.4" font-weight="bold" text-anchor="end" textLength="5.0" lengthAdjust="spacingAndGlyphs">0</text>
<text x="183.70" y="363.10" font-size="7.4" font-weight="bold" text-anchor="middle" textLength="5.0" lengthAdjust="spacingAndGlyphs">0</text>
<text x="221.00" y="363.10" font-size="7.4" font-weight="bold" text-anchor="middle" textLength="10.4" lengthAdjust="spacingAndGlyphs">40</text>
<text x="258.80" y="363.10" font-size="7.4" font-weight="bold" text-anchor="middle" textLength="10.2" lengthAdjust="spacingAndGlyphs">80</text>
<line x1="184.0" y1="349.9" x2="277.5" y2="270.9" stroke="#9c9c9c" stroke-width="0.8"/>
<polyline points="184.00,349.90 184.00,312.00 184.40,307.50 185.20,305.80 185.50,300.60 186.00,297.10 186.70,293.70 187.50,290.20 188.70,288.50 189.20,285.60 191.00,284.50 192.70,283.30 195.00,282.70 198.50,281.90 200.20,280.80 203.10,280.10 205.40,278.90 207.70,278.10 210.60,277.50 212.90,276.40 214.60,273.80 231.90,273.80 233.60,271.80 275.90,271.50" fill="none" stroke="#1a1a1a" stroke-width="1.4" stroke-linejoin="miter"/>
<text x="229.05" y="264.40" font-size="7.3" font-weight="bold" text-anchor="middle" textLength="23.6" lengthAdjust="spacingAndGlyphs">CDO1</text>
<text x="212.60" y="340.10" font-size="8.1" textLength="42.2" lengthAdjust="spacingAndGlyphs">AUC = 0.95</text>
<text x="212.60" y="348.60" font-size="8.1" textLength="80.6" lengthAdjust="spacingAndGlyphs">95% CI = (0.91&#8211;0.98)</text>
<text x="228.30" y="375.00" font-size="7.4" font-weight="bold" text-anchor="middle" textLength="66.6" lengthAdjust="spacingAndGlyphs">100 &#8211; Specificity</text>
<text transform="translate(159.0,309.0) rotate(-90)" font-size="10.4" text-anchor="middle">Sensitivity</text>
<path d="M30.4 404.8V483.6H124.9" stroke="#3a3a3a" stroke-width="1.2" fill="none"/>
<path d="M30.4 482.20h2.6M30.4 478.46h1.5M30.4 474.73h1.5M30.4 471.00h1.5M30.4 467.26h2.6M30.4 463.52h1.5M30.4 459.79h1.5M30.4 456.06h1.5M30.4 452.32h2.6M30.4 448.58h1.5M30.4 444.85h1.5M30.4 441.12h1.5M30.4 437.38h2.6M30.4 433.64h1.5M30.4 429.91h1.5M30.4 426.18h1.5M30.4 422.44h2.6M30.4 418.70h1.5M30.4 414.97h1.5M30.4 411.24h1.5M30.4 407.50h2.6M33.70 483.6v-2.4M38.10 483.6v-1.4M42.50 483.6v-1.4M46.90 483.6v-1.4M51.30 483.6v-2.4M55.70 483.6v-1.4M60.10 483.6v-1.4M64.50 483.6v-1.4M68.90 483.6v-2.4M73.30 483.6v-1.4M77.70 483.6v-1.4M82.10 483.6v-1.4M86.50 483.6v-2.4M90.90 483.6v-1.4M95.30 483.6v-1.4M99.70 483.6v-1.4M104.10 483.6v-2.4M108.50 483.6v-1.4M112.90 483.6v-1.4M117.30 483.6v-1.4M121.70 483.6v-2.4" stroke="#3a3a3a" stroke-width="0.6" fill="none"/>
<text x="26.90" y="410.10" font-size="7.4" font-weight="bold" text-anchor="end" textLength="15.2" lengthAdjust="spacingAndGlyphs">100</text>
<text x="26.90" y="425.04" font-size="7.4" font-weight="bold" text-anchor="end" textLength="10.2" lengthAdjust="spacingAndGlyphs">80</text>
<text x="26.90" y="439.98" font-size="7.4" font-weight="bold" text-anchor="end" textLength="10.2" lengthAdjust="spacingAndGlyphs">60</text>
<text x="26.90" y="454.92" font-size="7.4" font-weight="bold" text-anchor="end" textLength="10.4" lengthAdjust="spacingAndGlyphs">40</text>
<text x="26.90" y="469.86" font-size="7.4" font-weight="bold" text-anchor="end" textLength="10.2" lengthAdjust="spacingAndGlyphs">20</text>
<text x="26.90" y="484.80" font-size="7.4" font-weight="bold" text-anchor="end" textLength="5.0" lengthAdjust="spacingAndGlyphs">0</text>
<text x="33.70" y="493.70" font-size="7.4" font-weight="bold" text-anchor="middle" textLength="5.0" lengthAdjust="spacingAndGlyphs">0</text>
<text x="69.20" y="493.70" font-size="7.4" font-weight="bold" text-anchor="middle" textLength="10.4" lengthAdjust="spacingAndGlyphs">40</text>
<text x="104.10" y="493.70" font-size="7.4" font-weight="bold" text-anchor="middle" textLength="10.2" lengthAdjust="spacingAndGlyphs">80</text>
<line x1="33.7" y1="482.2" x2="121.7" y2="407.5" stroke="#9c9c9c" stroke-width="0.8"/>
<polyline points="34.00,482.20 34.00,450.00 34.70,442.40 35.40,437.70 36.50,436.30 37.00,432.30 37.40,430.90 39.20,430.90 40.10,426.90 40.80,423.50 42.10,422.20 44.10,421.90 45.50,420.80 46.80,420.60 48.20,418.80 49.50,417.50 51.30,416.10 51.50,412.10 52.20,410.10 54.20,410.70 63.00,410.30 65.30,407.70 120.90,407.50" fill="none" stroke="#1a1a1a" stroke-width="1.4" stroke-linejoin="miter"/>
<circle cx="52.2" cy="409.9" r="1.3" fill="#fff" stroke="#777" stroke-width="0.5"/>
<text x="78.90" y="399.70" font-size="7.3" font-weight="bold" text-anchor="middle" textLength="25.7" lengthAdjust="spacingAndGlyphs">CELF4</text>
<text x="61.40" y="471.80" font-size="8.1" textLength="42.4" lengthAdjust="spacingAndGlyphs">AUC = 0.94</text>
<text x="61.40" y="480.20" font-size="8.1" textLength="80.2" lengthAdjust="spacingAndGlyphs">95% CI = (0.90&#8211;0.97)</text>
<text x="75.00" y="504.70" font-size="7.4" font-weight="bold" text-anchor="middle" textLength="66.6" lengthAdjust="spacingAndGlyphs">100 &#8211; Specificity</text>
<text transform="translate(9.6,446.4) rotate(-90)" font-size="10.4" text-anchor="middle">Sensitivity</text>
<path d="M180.4 404.5V483.2H274.5" stroke="#3a3a3a" stroke-width="1.2" fill="none"/>
<path d="M180.4 481.20h2.6M180.4 477.48h1.5M180.4 473.76h1.5M180.4 470.04h1.5M180.4 466.32h2.6M180.4 462.60h1.5M180.4 458.88h1.5M180.4 455.16h1.5M180.4 451.44h2.6M180.4 447.72h1.5M180.4 444.00h1.5M180.4 440.28h1.5M180.4 436.56h2.6M180.4 432.84h1.5M180.4 429.12h1.5M180.4 425.40h1.5M180.4 421.68h2.6M180.4 417.96h1.5M180.4 414.24h1.5M180.4 410.52h1.5M180.4 406.80h2.6M183.70 483.2v-2.4M188.13 483.2v-1.4M192.57 483.2v-1.4M197.00 483.2v-1.4M201.44 483.2v-2.4M205.88 483.2v-1.4M210.31 483.2v-1.4M214.74 483.2v-1.4M219.18 483.2v-2.4M223.61 483.2v-1.4M228.05 483.2v-1.4M232.48 483.2v-1.4M236.92 483.2v-2.4M241.35 483.2v-1.4M245.79 483.2v-1.4M250.22 483.2v-1.4M254.66 483.2v-2.4M259.09 483.2v-1.4M263.53 483.2v-1.4M267.96 483.2v-1.4M272.40 483.2v-2.4" stroke="#3a3a3a" stroke-width="0.6" fill="none"/>
<text x="176.90" y="409.40" font-size="7.4" font-weight="bold" text-anchor="end" textLength="15.2" lengthAdjust="spacingAndGlyphs">100</text>
<text x="176.90" y="424.28" font-size="7.4" font-weight="bold" text-anchor="end" textLength="10.2" lengthAdjust="spacingAndGlyphs">80</text>
<text x="176.90" y="439.16" font-size="7.4" font-weight="bold" text-anchor="end" textLength="10.2" lengthAdjust="spacingAndGlyphs">60</text>
<text x="176.90" y="454.04" font-size="7.4" font-weight="bold" text-anchor="end" textLength="10.4" lengthAdjust="spacingAndGlyphs">40</text>
<text x="176.90" y="468.92" font-size="7.4" font-weight="bold" text-anchor="end" textLength="10.2" lengthAdjust="spacingAndGlyphs">20</text>
<text x="176.90" y="483.80" font-size="7.4" font-weight="bold" text-anchor="end" textLength="5.0" lengthAdjust="spacingAndGlyphs">0</text>
<text x="183.70" y="493.50" font-size="7.4" font-weight="bold" text-anchor="middle" textLength="5.0" lengthAdjust="spacingAndGlyphs">0</text>
<text x="220.10" y="493.50" font-size="7.4" font-weight="bold" text-anchor="middle" textLength="10.4" lengthAdjust="spacingAndGlyphs">40</text>
<text x="254.70" y="493.50" font-size="7.4" font-weight="bold" text-anchor="middle" textLength="10.2" lengthAdjust="spacingAndGlyphs">80</text>
<line x1="183.7" y1="481.2" x2="272.4" y2="406.8" stroke="#9c9c9c" stroke-width="0.8"/>
<polyline points="183.70,481.20 183.70,472.30 184.90,470.60 185.70,468.20 186.50,464.90 186.90,460.80 187.40,455.90 187.80,447.80 188.20,434.70 189.00,429.00 190.10,424.90 191.40,423.20 193.10,420.80 195.50,418.30 198.00,415.90 199.90,413.10 202.10,413.10 206.10,412.60 209.40,411.00 216.80,410.20 230.00,409.80 254.70,409.70 257.80,408.10 258.80,406.80 271.30,406.80" fill="none" stroke="#1a1a1a" stroke-width="1.4" stroke-linejoin="miter"/>
<circle cx="199.9" cy="412.9" r="1.3" fill="#fff" stroke="#777" stroke-width="0.5"/>
<text x="229.20" y="399.50" font-size="7.3" font-weight="bold" text-anchor="middle" textLength="31.9" lengthAdjust="spacingAndGlyphs">ZNF662</text>
<text x="211.40" y="471.80" font-size="8.1" textLength="42.2" lengthAdjust="spacingAndGlyphs">AUC = 0.89</text>
<text x="211.40" y="480.20" font-size="8.1" textLength="80.3" lengthAdjust="spacingAndGlyphs">95% CI = (0.83&#8211;0.95)</text>
<text x="228.90" y="504.70" font-size="7.4" font-weight="bold" text-anchor="middle" textLength="66.6" lengthAdjust="spacingAndGlyphs">100 &#8211; Specificity</text>
<text transform="translate(159.4,446.0) rotate(-90)" font-size="10.4" text-anchor="middle">Sensitivity</text>
<g shape-rendering="auto">
<rect x="335.20" y="32.80" width="40.20" height="22.58" fill="#e50000"/>
<rect x="335.20" y="55.38" width="40.20" height="3.23" fill="#ffff00"/>
<rect x="335.20" y="58.61" width="40.20" height="6.45" fill="#e50000"/>
<rect x="335.20" y="65.06" width="40.20" height="3.23" fill="#ffff00"/>
<rect x="335.20" y="68.29" width="40.20" height="3.23" fill="#a8a8a8"/>
<rect x="335.20" y="71.51" width="40.20" height="100.01" fill="#e50000"/>
<rect x="335.20" y="171.52" width="40.20" height="19.36" fill="#ffff00"/>
<rect x="335.20" y="190.88" width="40.20" height="12.90" fill="#e50000"/>
<rect x="335.20" y="203.78" width="40.20" height="119.36" fill="#ffff00"/>
<rect x="335.20" y="323.14" width="40.20" height="3.23" fill="#a8a8a8"/>
<rect x="335.20" y="326.37" width="40.20" height="6.45" fill="#e50000"/>
<rect x="335.20" y="332.82" width="40.20" height="170.98" fill="#ffff00"/>
<rect x="375.40" y="32.80" width="39.90" height="19.36" fill="#e50000"/>
<rect x="375.40" y="52.16" width="39.90" height="3.23" fill="#ffff00"/>
<rect x="375.40" y="55.38" width="39.90" height="103.23" fill="#e50000"/>
<rect x="375.40" y="158.62" width="39.90" height="12.90" fill="#ffff00"/>
<rect x="375.40" y="171.52" width="39.90" height="6.45" fill="#e50000"/>
<rect x="375.40" y="177.97" width="39.90" height="12.90" fill="#ffff00"/>
<rect x="375.40" y="190.88" width="39.90" height="9.68" fill="#e50000"/>
<rect x="375.40" y="200.55" width="39.90" height="3.23" fill="#ffff00"/>
<rect x="375.40" y="203.78" width="39.90" height="3.23" fill="#e50000"/>
<rect x="375.40" y="207.01" width="39.90" height="29.03" fill="#ffff00"/>
<rect x="375.40" y="236.04" width="39.90" height="6.45" fill="#e50000"/>
<rect x="375.40" y="242.49" width="39.90" height="135.49" fill="#ffff00"/>
<rect x="375.40" y="377.98" width="39.90" height="3.23" fill="#e50000"/>
<rect x="375.40" y="381.21" width="39.90" height="122.59" fill="#ffff00"/>
<rect x="415.30" y="32.80" width="42.50" height="151.62" fill="#e50000"/>
<rect x="415.30" y="184.42" width="42.50" height="6.45" fill="#ffff00"/>
<rect x="415.30" y="190.88" width="42.50" height="6.45" fill="#e50000"/>
<rect x="415.30" y="197.33" width="42.50" height="6.45" fill="#ffff00"/>
<rect x="415.30" y="203.78" width="42.50" height="32.26" fill="#e50000"/>
<rect x="415.30" y="236.04" width="42.50" height="96.78" fill="#ffff00"/>
<rect x="415.30" y="332.82" width="42.50" height="22.58" fill="#a8a8a8"/>
<rect x="415.30" y="355.40" width="42.50" height="22.58" fill="#e50000"/>
<rect x="415.30" y="377.98" width="42.50" height="125.82" fill="#ffff00"/>
<rect x="457.80" y="32.80" width="40.20" height="22.58" fill="#e50000"/>
<rect x="457.80" y="55.38" width="40.20" height="3.23" fill="#ffff00"/>
<rect x="457.80" y="58.61" width="40.20" height="41.94" fill="#e50000"/>
<rect x="457.80" y="100.55" width="40.20" height="3.23" fill="#ffff00"/>
<rect x="457.80" y="103.77" width="40.20" height="74.20" fill="#e50000"/>
<rect x="457.80" y="177.97" width="40.20" height="6.45" fill="#ffff00"/>
<rect x="457.80" y="184.42" width="40.20" height="9.68" fill="#e50000"/>
<rect x="457.80" y="194.10" width="40.20" height="3.23" fill="#ffff00"/>
<rect x="457.80" y="197.33" width="40.20" height="3.23" fill="#e50000"/>
<rect x="457.80" y="200.55" width="40.20" height="6.45" fill="#ffff00"/>
<rect x="457.80" y="207.01" width="40.20" height="3.23" fill="#e50000"/>
<rect x="457.80" y="210.23" width="40.20" height="12.90" fill="#ffff00"/>
<rect x="457.80" y="223.14" width="40.20" height="16.13" fill="#e50000"/>
<rect x="457.80" y="239.27" width="40.20" height="3.23" fill="#ffff00"/>
<rect x="457.80" y="242.49" width="40.20" height="3.23" fill="#e50000"/>
<rect x="457.80" y="245.72" width="40.20" height="3.23" fill="#ffff00"/>
<rect x="457.80" y="248.94" width="40.20" height="6.45" fill="#e50000"/>
<rect x="457.80" y="255.40" width="40.20" height="19.36" fill="#ffff00"/>
<rect x="457.80" y="274.75" width="40.20" height="6.45" fill="#e50000"/>
<rect x="457.80" y="281.20" width="40.20" height="25.81" fill="#ffff00"/>
<rect x="457.80" y="307.01" width="40.20" height="3.23" fill="#e50000"/>
<rect x="457.80" y="310.24" width="40.20" height="9.68" fill="#ffff00"/>
<rect x="457.80" y="319.92" width="40.20" height="6.45" fill="#e50000"/>
<rect x="457.80" y="326.37" width="40.20" height="32.26" fill="#ffff00"/>
<rect x="457.80" y="358.63" width="40.20" height="3.23" fill="#e50000"/>
<rect x="457.80" y="361.85" width="40.20" height="45.16" fill="#ffff00"/>
<rect x="457.80" y="407.02" width="40.20" height="9.68" fill="#e50000"/>
<rect x="457.80" y="416.70" width="40.20" height="58.07" fill="#ffff00"/>
<rect x="457.80" y="474.77" width="40.20" height="3.23" fill="#e50000"/>
<rect x="457.80" y="477.99" width="40.20" height="25.81" fill="#ffff00"/>
<path d="M335.20 32.80H375.40M335.20 36.03H375.40M335.20 39.25H375.40M335.20 42.48H375.40M335.20 45.70H375.40M335.20 48.93H375.40M335.20 52.16H375.40M335.20 61.83H375.40M335.20 71.51H375.40M335.20 74.74H375.40M335.20 77.96H375.40M335.20 81.19H375.40M335.20 84.42H375.40M335.20 87.64H375.40M335.20 90.87H375.40M335.20 94.09H375.40M335.20 97.32H375.40M335.20 100.55H375.40M335.20 103.77H375.40M335.20 107.00H375.40M335.20 110.22H375.40M335.20 113.45H375.40M335.20 116.68H375.40M335.20 119.90H375.40M335.20 123.13H375.40M335.20 126.35H375.40M335.20 129.58H375.40M335.20 132.81H375.40M335.20 136.03H375.40M335.20 139.26H375.40M335.20 142.48H375.40M335.20 145.71H375.40M335.20 148.94H375.40M335.20 152.16H375.40M335.20 155.39H375.40M335.20 158.62H375.40M335.20 161.84H375.40M335.20 165.07H375.40M335.20 168.29H375.40M335.20 194.10H375.40M335.20 197.33H375.40M335.20 200.55H375.40M335.20 326.37H375.40M335.20 329.59H375.40M375.40 32.80H415.30M375.40 36.03H415.30M375.40 39.25H415.30M375.40 42.48H415.30M375.40 45.70H415.30M375.40 48.93H415.30M375.40 58.61H415.30M375.40 61.83H415.30M375.40 65.06H415.30M375.40 68.29H415.30M375.40 71.51H415.30M375.40 74.74H415.30M375.40 77.96H415.30M375.40 81.19H415.30M375.40 84.42H415.30M375.40 87.64H415.30M375.40 90.87H415.30M375.40 94.09H415.30M375.40 97.32H415.30M375.40 100.55H415.30M375.40 103.77H415.30M375.40 107.00H415.30M375.40 110.22H415.30M375.40 113.45H415.30M375.40 116.68H415.30M375.40 119.90H415.30M375.40 123.13H415.30M375.40 126.35H415.30M375.40 129.58H415.30M375.40 132.81H415.30M375.40 136.03H415.30M375.40 139.26H415.30M375.40 142.48H415.30M375.40 145.71H415.30M375.40 148.94H415.30M375.40 152.16H415.30M375.40 155.39H415.30M375.40 174.75H415.30M375.40 194.10H415.30M375.40 197.33H415.30M375.40 239.27H415.30M415.30 32.80H457.80M415.30 36.03H457.80M415.30 39.25H457.80M415.30 42.48H457.80M415.30 45.70H457.80M415.30 48.93H457.80M415.30 52.16H457.80M415.30 55.38H457.80M415.30 58.61H457.80M415.30 61.83H457.80M415.30 65.06H457.80M415.30 68.29H457.80M415.30 71.51H457.80M415.30 74.74H457.80M415.30 77.96H457.80M415.30 81.19H457.80M415.30 84.42H457.80M415.30 87.64H457.80M415.30 90.87H457.80M415.30 94.09H457.80M415.30 97.32H457.80M415.30 100.55H457.80M415.30 103.77H457.80M415.30 107.00H457.80M415.30 110.22H457.80M415.30 113.45H457.80M415.30 116.68H457.80M415.30 119.90H457.80M415.30 123.13H457.80M415.30 126.35H457.80M415.30 129.58H457.80M415.30 132.81H457.80M415.30 136.03H457.80M415.30 139.26H457.80M415.30 142.48H457.80M415.30 145.71H457.80M415.30 148.94H457.80M415.30 152.16H457.80M415.30 155.39H457.80M415.30 158.62H457.80M415.30 161.84H457.80M415.30 165.07H457.80M415.30 168.29H457.80M415.30 171.52H457.80M415.30 174.75H457.80M415.30 177.97H457.80M415.30 181.20H457.80M415.30 194.10H457.80M415.30 207.01H457.80M415.30 210.23H457.80M415.30 213.46H457.80M415.30 216.68H457.80M415.30 219.91H457.80M415.30 223.14H457.80M415.30 226.36H457.80M415.30 229.59H457.80M415.30 232.81H457.80M415.30 355.40H457.80M415.30 358.63H457.80M415.30 361.85H457.80M415.30 365.08H457.80M415.30 368.31H457.80M415.30 371.53H457.80M415.30 374.76H457.80M457.80 32.80H498.00M457.80 36.03H498.00M457.80 39.25H498.00M457.80 42.48H498.00M457.80 45.70H498.00M457.80 48.93H498.00M457.80 52.16H498.00M457.80 61.83H498.00M457.80 65.06H498.00M457.80 68.29H498.00M457.80 71.51H498.00M457.80 74.74H498.00M457.80 77.96H498.00M457.80 81.19H498.00M457.80 84.42H498.00M457.80 87.64H498.00M457.80 90.87H498.00M457.80 94.09H498.00M457.80 97.32H498.00M457.80 107.00H498.00M457.80 110.22H498.00M457.80 113.45H498.00M457.80 116.68H498.00M457.80 119.90H498.00M457.80 123.13H498.00M457.80 126.35H498.00M457.80 129.58H498.00M457.80 132.81H498.00M457.80 136.03H498.00M457.80 139.26H498.00M457.80 142.48H498.00M457.80 145.71H498.00M457.80 148.94H498.00M457.80 152.16H498.00M457.80 155.39H498.00M457.80 158.62H498.00M457.80 161.84H498.00M457.80 165.07H498.00M457.80 168.29H498.00M457.80 171.52H498.00M457.80 174.75H498.00M457.80 187.65H498.00M457.80 190.88H498.00M457.80 226.36H498.00M457.80 229.59H498.00M457.80 232.81H498.00M457.80 236.04H498.00M457.80 252.17H498.00M457.80 277.98H498.00M457.80 323.14H498.00M457.80 410.25H498.00M457.80 413.47H498.00" stroke="#000" stroke-opacity="0.45" stroke-width="0.75" fill="none"/>
<path d="M335.20 55.38H375.40M335.20 58.61H375.40M335.20 65.06H375.40M335.20 68.29H375.40M335.20 171.52H375.40M335.20 174.75H375.40M335.20 177.97H375.40M335.20 181.20H375.40M335.20 184.42H375.40M335.20 187.65H375.40M335.20 190.88H375.40M335.20 203.78H375.40M335.20 207.01H375.40M335.20 210.23H375.40M335.20 213.46H375.40M335.20 216.68H375.40M335.20 219.91H375.40M335.20 223.14H375.40M335.20 226.36H375.40M335.20 229.59H375.40M335.20 232.81H375.40M335.20 236.04H375.40M335.20 239.27H375.40M335.20 242.49H375.40M335.20 245.72H375.40M335.20 248.94H375.40M335.20 252.17H375.40M335.20 255.40H375.40M335.20 258.62H375.40M335.20 261.85H375.40M335.20 265.07H375.40M335.20 268.30H375.40M335.20 271.53H375.40M335.20 274.75H375.40M335.20 277.98H375.40M335.20 281.20H375.40M335.20 284.43H375.40M335.20 287.66H375.40M335.20 290.88H375.40M335.20 294.11H375.40M335.20 297.33H375.40M335.20 300.56H375.40M335.20 303.79H375.40M335.20 307.01H375.40M335.20 310.24H375.40M335.20 313.46H375.40M335.20 316.69H375.40M335.20 319.92H375.40M335.20 323.14H375.40M335.20 332.82H375.40M335.20 336.05H375.40M335.20 339.27H375.40M335.20 342.50H375.40M335.20 345.72H375.40M335.20 348.95H375.40M335.20 352.18H375.40M335.20 355.40H375.40M335.20 358.63H375.40M335.20 361.85H375.40M335.20 365.08H375.40M335.20 368.31H375.40M335.20 371.53H375.40M335.20 374.76H375.40M335.20 377.98H375.40M335.20 381.21H375.40M335.20 384.44H375.40M335.20 387.66H375.40M335.20 390.89H375.40M335.20 394.12H375.40M335.20 397.34H375.40M335.20 400.57H375.40M335.20 403.79H375.40M335.20 407.02H375.40M335.20 410.25H375.40M335.20 413.47H375.40M335.20 416.70H375.40M335.20 419.92H375.40M335.20 423.15H375.40M335.20 426.38H375.40M335.20 429.60H375.40M335.20 432.83H375.40M335.20 436.05H375.40M335.20 439.28H375.40M335.20 442.51H375.40M335.20 445.73H375.40M335.20 448.96H375.40M335.20 452.18H375.40M335.20 455.41H375.40M335.20 458.64H375.40M335.20 461.86H375.40M335.20 465.09H375.40M335.20 468.31H375.40M335.20 471.54H375.40M335.20 474.77H375.40M335.20 477.99H375.40M335.20 481.22H375.40M335.20 484.44H375.40M335.20 487.67H375.40M335.20 490.90H375.40M335.20 494.12H375.40M335.20 497.35H375.40M335.20 500.57H375.40M335.20 503.80H375.40M375.40 52.16H415.30M375.40 55.38H415.30M375.40 158.62H415.30M375.40 161.84H415.30M375.40 165.07H415.30M375.40 168.29H415.30M375.40 171.52H415.30M375.40 177.97H415.30M375.40 181.20H415.30M375.40 184.42H415.30M375.40 187.65H415.30M375.40 190.88H415.30M375.40 200.55H415.30M375.40 203.78H415.30M375.40 207.01H415.30M375.40 210.23H415.30M375.40 213.46H415.30M375.40 216.68H415.30M375.40 219.91H415.30M375.40 223.14H415.30M375.40 226.36H415.30M375.40 229.59H415.30M375.40 232.81H415.30M375.40 236.04H415.30M375.40 242.49H415.30M375.40 245.72H415.30M375.40 248.94H415.30M375.40 252.17H415.30M375.40 255.40H415.30M375.40 258.62H415.30M375.40 261.85H415.30M375.40 265.07H415.30M375.40 268.30H415.30M375.40 271.53H415.30M375.40 274.75H415.30M375.40 277.98H415.30M375.40 281.20H415.30M375.40 284.43H415.30M375.40 287.66H415.30M375.40 290.88H415.30M375.40 294.11H415.30M375.40 297.33H415.30M375.40 300.56H415.30M375.40 303.79H415.30M375.40 307.01H415.30M375.40 310.24H415.30M375.40 313.46H415.30M375.40 316.69H415.30M375.40 319.92H415.30M375.40 323.14H415.30M375.40 326.37H415.30M375.40 329.59H415.30M375.40 332.82H415.30M375.40 336.05H415.30M375.40 339.27H415.30M375.40 342.50H415.30M375.40 345.72H415.30M375.40 348.95H415.30M375.40 352.18H415.30M375.40 355.40H415.30M375.40 358.63H415.30M375.40 361.85H415.30M375.40 365.08H415.30M375.40 368.31H415.30M375.40 371.53H415.30M375.40 374.76H415.30M375.40 377.98H415.30M375.40 381.21H415.30M375.40 384.44H415.30M375.40 387.66H415.30M375.40 390.89H415.30M375.40 394.12H415.30M375.40 397.34H415.30M375.40 400.57H415.30M375.40 403.79H415.30M375.40 407.02H415.30M375.40 410.25H415.30M375.40 413.47H415.30M375.40 416.70H415.30M375.40 419.92H415.30M375.40 423.15H415.30M375.40 426.38H415.30M375.40 429.60H415.30M375.40 432.83H415.30M375.40 436.05H415.30M375.40 439.28H415.30M375.40 442.51H415.30M375.40 445.73H415.30M375.40 448.96H415.30M375.40 452.18H415.30M375.40 455.41H415.30M375.40 458.64H415.30M375.40 461.86H415.30M375.40 465.09H415.30M375.40 468.31H415.30M375.40 471.54H415.30M375.40 474.77H415.30M375.40 477.99H415.30M375.40 481.22H415.30M375.40 484.44H415.30M375.40 487.67H415.30M375.40 490.90H415.30M375.40 494.12H415.30M375.40 497.35H415.30M375.40 500.57H415.30M375.40 503.80H415.30M415.30 184.42H457.80M415.30 187.65H457.80M415.30 190.88H457.80M415.30 197.33H457.80M415.30 200.55H457.80M415.30 203.78H457.80M415.30 236.04H457.80M415.30 239.27H457.80M415.30 242.49H457.80M415.30 245.72H457.80M415.30 248.94H457.80M415.30 252.17H457.80M415.30 255.40H457.80M415.30 258.62H457.80M415.30 261.85H457.80M415.30 265.07H457.80M415.30 268.30H457.80M415.30 271.53H457.80M415.30 274.75H457.80M415.30 277.98H457.80M415.30 281.20H457.80M415.30 284.43H457.80M415.30 287.66H457.80M415.30 290.88H457.80M415.30 294.11H457.80M415.30 297.33H457.80M415.30 300.56H457.80M415.30 303.79H457.80M415.30 307.01H457.80M415.30 310.24H457.80M415.30 313.46H457.80M415.30 316.69H457.80M415.30 319.92H457.80M415.30 323.14H457.80M415.30 326.37H457.80M415.30 329.59H457.80M415.30 332.82H457.80M415.30 336.05H457.80M415.30 339.27H457.80M415.30 342.50H457.80M415.30 345.72H457.80M415.30 348.95H457.80M415.30 352.18H457.80M415.30 377.98H457.80M415.30 381.21H457.80M415.30 384.44H457.80M415.30 387.66H457.80M415.30 390.89H457.80M415.30 394.12H457.80M415.30 397.34H457.80M415.30 400.57H457.80M415.30 403.79H457.80M415.30 407.02H457.80M415.30 410.25H457.80M415.30 413.47H457.80M415.30 416.70H457.80M415.30 419.92H457.80M415.30 423.15H457.80M415.30 426.38H457.80M415.30 429.60H457.80M415.30 432.83H457.80M415.30 436.05H457.80M415.30 439.28H457.80M415.30 442.51H457.80M415.30 445.73H457.80M415.30 448.96H457.80M415.30 452.18H457.80M415.30 455.41H457.80M415.30 458.64H457.80M415.30 461.86H457.80M415.30 465.09H457.80M415.30 468.31H457.80M415.30 471.54H457.80M415.30 474.77H457.80M415.30 477.99H457.80M415.30 481.22H457.80M415.30 484.44H457.80M415.30 487.67H457.80M415.30 490.90H457.80M415.30 494.12H457.80M415.30 497.35H457.80M415.30 500.57H457.80M415.30 503.80H457.80M457.80 55.38H498.00M457.80 58.61H498.00M457.80 100.55H498.00M457.80 103.77H498.00M457.80 177.97H498.00M457.80 181.20H498.00M457.80 184.42H498.00M457.80 194.10H498.00M457.80 197.33H498.00M457.80 200.55H498.00M457.80 203.78H498.00M457.80 207.01H498.00M457.80 210.23H498.00M457.80 213.46H498.00M457.80 216.68H498.00M457.80 219.91H498.00M457.80 223.14H498.00M457.80 239.27H498.00M457.80 242.49H498.00M457.80 245.72H498.00M457.80 248.94H498.00M457.80 255.40H498.00M457.80 258.62H498.00M457.80 261.85H498.00M457.80 265.07H498.00M457.80 268.30H498.00M457.80 271.53H498.00M457.80 274.75H498.00M457.80 281.20H498.00M457.80 284.43H498.00M457.80 287.66H498.00M457.80 290.88H498.00M457.80 294.11H498.00M457.80 297.33H498.00M457.80 300.56H498.00M457.80 303.79H498.00M457.80 307.01H498.00M457.80 310.24H498.00M457.80 313.46H498.00M457.80 316.69H498.00M457.80 319.92H498.00M457.80 326.37H498.00M457.80 329.59H498.00M457.80 332.82H498.00M457.80 336.05H498.00M457.80 339.27H498.00M457.80 342.50H498.00M457.80 345.72H498.00M457.80 348.95H498.00M457.80 352.18H498.00M457.80 355.40H498.00M457.80 358.63H498.00M457.80 361.85H498.00M457.80 365.08H498.00M457.80 368.31H498.00M457.80 371.53H498.00M457.80 374.76H498.00M457.80 377.98H498.00M457.80 381.21H498.00M457.80 384.44H498.00M457.80 387.66H498.00M457.80 390.89H498.00M457.80 394.12H498.00M457.80 397.34H498.00M457.80 400.57H498.00M457.80 403.79H498.00M457.80 407.02H498.00M457.80 416.70H498.00M457.80 419.92H498.00M457.80 423.15H498.00M457.80 426.38H498.00M457.80 429.60H498.00M457.80 432.83H498.00M457.80 436.05H498.00M457.80 439.28H498.00M457.80 442.51H498.00M457.80 445.73H498.00M457.80 448.96H498.00M457.80 452.18H498.00M457.80 455.41H498.00M457.80 458.64H498.00M457.80 461.86H498.00M457.80 465.09H498.00M457.80 468.31H498.00M457.80 471.54H498.00M457.80 474.77H498.00M457.80 477.99H498.00M457.80 481.22H498.00M457.80 484.44H498.00M457.80 487.67H498.00M457.80 490.90H498.00M457.80 494.12H498.00M457.80 497.35H498.00M457.80 500.57H498.00M457.80 503.80H498.00" stroke="#000" stroke-opacity="0.62" stroke-width="0.85" fill="none"/>
<path d="M335.20 32.80V503.80M375.40 32.80V503.80M415.30 32.80V503.80M457.80 32.80V503.80M498.00 32.80V503.80" stroke="#200" stroke-width="0.8" fill="none"/>
</g>
<rect x="306.5" y="32.80" width="15.2" height="159.80" fill="#fcdede"/>
<rect x="322.4" y="32.80" width="12.6" height="35.49" fill="#000"/>
<rect x="322.4" y="68.29" width="12.6" height="122.21" fill="#1a6ef0"/>
<rect x="306.8" y="194.70" width="27.8" height="127.64" fill="#e2ecc9"/>
<line x1="306" y1="32.80" x2="335.2" y2="32.80" stroke="#555" stroke-width="0.9"/>
<line x1="306" y1="194.10" x2="335.2" y2="194.10" stroke="#555" stroke-width="0.9"/>
<line x1="306" y1="323.14" x2="335.2" y2="323.14" stroke="#555" stroke-width="0.9"/>
<line x1="306" y1="503.80" x2="335.2" y2="503.80" stroke="#555" stroke-width="0.9"/>
<text transform="translate(317.3,106.0) rotate(-90)" font-size="12.9" font-weight="normal" text-anchor="middle" textLength="69.5" lengthAdjust="spacingAndGlyphs" style="stroke-width:0.1px" >EC (<tspan font-style="italic">N</tspan> = 50)</text>
<text transform="translate(317.6,254.0) rotate(-90)" font-size="12.9" font-weight="normal" text-anchor="middle" textLength="93.0" lengthAdjust="spacingAndGlyphs" style="stroke-width:0.1px" >Myoma (<tspan font-style="italic">N</tspan> = 40)</text>
<text transform="translate(317.2,414.7) rotate(-90)" font-size="12.9" font-weight="normal" text-anchor="middle" textLength="94.0" lengthAdjust="spacingAndGlyphs" style="stroke-width:0.1px" >Normal (<tspan font-style="italic">N</tspan> = 56)</text>
<text transform="translate(344.0,29.6) rotate(-30)" font-size="10.9" textLength="44.0" lengthAdjust="spacingAndGlyphs" style="stroke-width:0.1px">BHLHE22</text>
<text transform="translate(385.6,26.6) rotate(-30)" font-size="10.9" textLength="27.4" lengthAdjust="spacingAndGlyphs" style="stroke-width:0.1px">CDO1</text>
<text transform="translate(425.6,27.0) rotate(-30)" font-size="10.9" textLength="30.6" lengthAdjust="spacingAndGlyphs" style="stroke-width:0.1px">CELF4</text>
<text transform="translate(467.8,27.3) rotate(-30)" font-size="10.9" textLength="36.2" lengthAdjust="spacingAndGlyphs" style="stroke-width:0.1px">ZNF662</text>
<text transform="translate(515.3,270.0) rotate(-90)" font-size="10.8" font-weight="normal" text-anchor="start" textLength="47.8" lengthAdjust="spacingAndGlyphs" style="stroke-width:0.1px" >:Stage I,II</text>
<rect x="505.0" y="272.2" width="12.6" height="11.5" fill="#1a6ef0"/>
<text transform="translate(515.3,343.0) rotate(-90)" font-size="10.8" font-weight="normal" text-anchor="start" textLength="43.2" lengthAdjust="spacingAndGlyphs" style="stroke-width:0.1px" >:Stage III</text>
<rect x="505.2" y="344.3" width="12.6" height="11.1" fill="#000"/>
<text transform="translate(515.3,383.8) rotate(-90)" font-size="10.8" font-weight="normal" text-anchor="start" textLength="17.6" lengthAdjust="spacingAndGlyphs" style="stroke-width:0.1px" >:NA</text>
<rect x="506.2" y="386.0" width="12.6" height="11.8" fill="#a8a8a8"/>
<text transform="translate(515.3,437.8) rotate(-90)" font-size="10.8" font-weight="normal" text-anchor="start" textLength="26.6" lengthAdjust="spacingAndGlyphs" style="stroke-width:0.1px" >:Neg.</text>
<rect x="506.7" y="440.6" width="12.6" height="11.3" fill="#ffff00"/>
<text transform="translate(515.3,489.6) rotate(-90)" font-size="10.8" font-weight="normal" text-anchor="start" textLength="25.4" lengthAdjust="spacingAndGlyphs" style="stroke-width:0.1px" >:Pos.</text>
<rect x="506.7" y="490.2" width="12.6" height="11.5" fill="#e50000"/>
<text x="1.4" y="9.6" font-size="12" font-weight="bold">A</text>
<text x="1.0" y="260.1" font-size="12.5" font-weight="bold" textLength="8.8" lengthAdjust="spacingAndGlyphs">B</text>
<text x="295.4" y="9.8" font-size="12.8" font-weight="bold">C</text>
</svg>
</body></html>
